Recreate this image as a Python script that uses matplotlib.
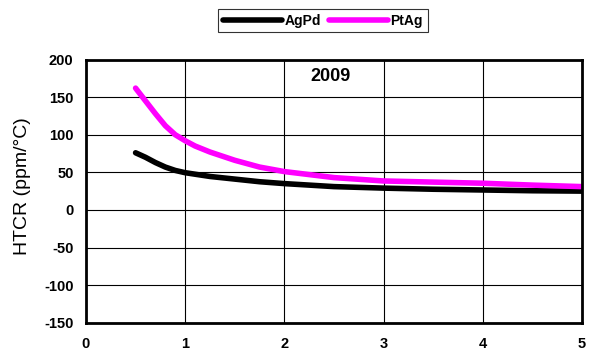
import matplotlib
matplotlib.use("Agg")
import matplotlib.pyplot as plt

plt.rcParams["font.family"] = ["Liberation Sans", "DejaVu Sans"]
plt.rcParams["axes.unicode_minus"] = False

# HTCR curves
agpd_x = [0.5, 0.6, 0.7, 0.8, 0.9, 1.0, 1.25, 1.5, 1.75, 2.0, 2.5, 3.0, 3.5, 4.0, 4.5, 5.0]
agpd_y = [76, 70, 63, 57, 52.5, 49.5, 44.5, 41, 37.5, 35, 31, 29, 27.5, 26.5, 25.5, 25]
ptag_x = [0.5, 0.6, 0.7, 0.8, 0.9, 1.0, 1.1, 1.25, 1.5, 1.75, 2.0, 2.5, 3.0, 3.5, 4.0, 4.5, 5.0]
ptag_y = [162, 145, 128, 112, 100, 92, 85, 77, 66, 57, 51, 43, 38.5, 37, 35.5, 33, 31]

xticks = [0, 1, 2, 3, 4, 5]
yticks = [-150, -100, -50, 0, 50, 100, 150, 200]

fig = plt.figure(figsize=(5.95, 3.6), dpi=100)
ax = fig.add_axes([0.1445, 0.1036, 0.8336, 0.731])

ax.plot(agpd_x, agpd_y, color="black", lw=4, solid_capstyle="round",
        solid_joinstyle="round", label="AgPd")
ax.plot(ptag_x, ptag_y, color="#ff00ff", lw=4, solid_capstyle="round",
        solid_joinstyle="round", label="PtAg")

ax.set_xlim(0, 5)
ax.set_ylim(-150, 200)
ax.set_xticks(xticks)
ax.set_yticks(yticks)
ax.grid(True, color="black", lw=0.8)
ax.tick_params(length=0, labelsize=10.5)
ax.tick_params(axis="x", pad=10)
ax.tick_params(axis="y", pad=9)
for lab in ax.get_xticklabels() + ax.get_yticklabels():
    lab.set_fontweight("bold")
for s in ax.spines.values():
    s.set_linewidth(2)

ax.set_ylabel("HTCR (ppm/°C)", fontsize=14)
ax.yaxis.set_label_coords(-0.127, 0.52)
ax.yaxis.label.set_va("center")
ax.text(2.47, 177, "2009", ha="center", va="center", fontsize=13, fontweight="bold")

leg = fig.legend(loc="center", bbox_to_anchor=(0.543, 0.943), ncol=2, frameon=True,
                 fancybox=False, edgecolor="black", handlelength=4.2,
                 columnspacing=0.6, handletextpad=0.2, borderpad=0.35,
                 prop={"weight": "bold", "size": 10})
leg.get_frame().set_linewidth(0.8)

fig.savefig("out.png", dpi=100)
